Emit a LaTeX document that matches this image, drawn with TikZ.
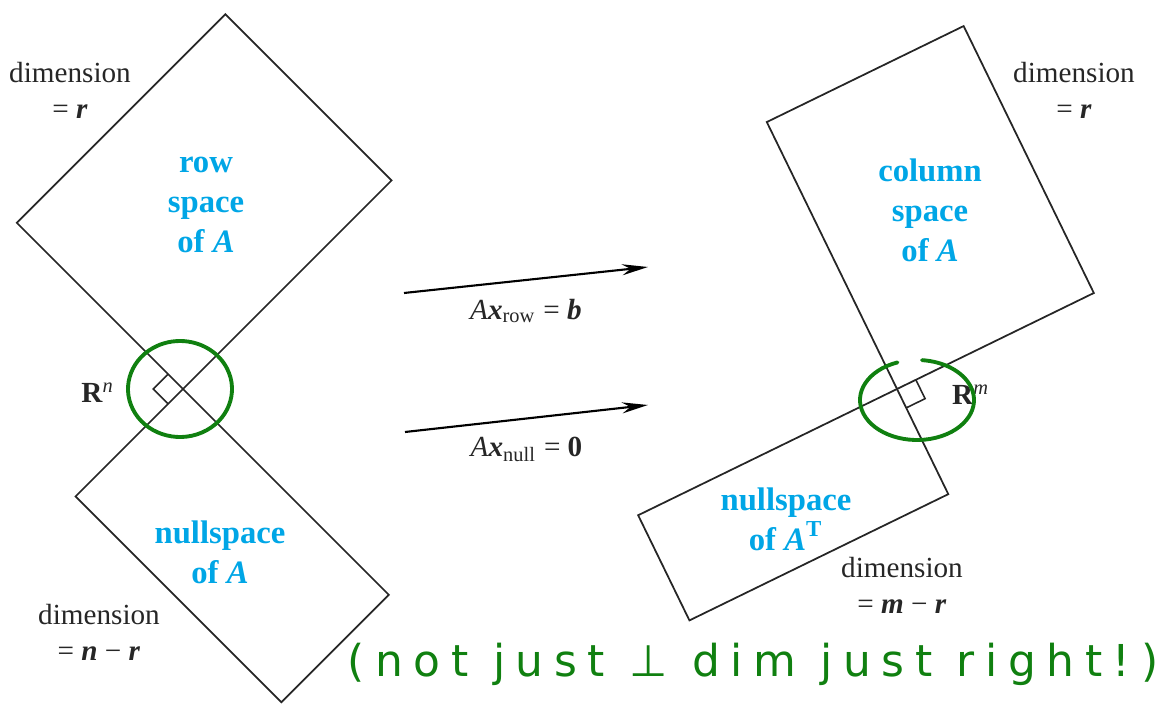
\documentclass[tikz,border=0pt]{standalone}
\usepackage{fontspec}
\setmainfont{Liberation Serif}
\newfontfamily\handfont[LetterSpace=24]{DejaVu Sans}
\usepackage{tikz}
\usetikzlibrary{arrows.meta,positioning,calc}
\definecolor{spaceblue}{RGB}{0,166,230}
\definecolor{pengreen}{RGB}{16,128,16}

\begin{document}
\begin{tikzpicture}[
  sp/.style={draw=black!85,line width=0.5pt},
  ra/.style={draw=black!85,line width=0.45pt},
  blab/.style={text=spaceblue,font=\fontsize{9.3}{11.4}\selectfont\bfseries,align=center},
  lab/.style={font=\fontsize{8.3}{10.2}\selectfont,align=center,text=black!85},
  arr/.style={line width=0.6pt,-{Stealth[length=2.6mm,width=1.1mm]}},
  pen/.style={draw=pengreen,line width=1.1pt,line cap=round}
]
\useasboundingbox (0,0) rectangle (11.66,7.04);
% left: R^n
\coordinate (jl) at (1.83,3.15);
\begin{scope}[shift={(jl)},rotate=45]
  \draw[sp] (0,0) rectangle (2.95,2.35);
  \draw[sp] (0,0) rectangle (-1.52,-2.91);
  \draw[ra] (0,0.21) -- (-0.21,0.21) -- (-0.21,0);
\end{scope}
\node[blab] (rowsp) at (2.06,4.99) {row\\space\\of \textit{A}};
\node[blab] (nulsp) at (2.20,1.52) {nullspace\\of \textit{A}};
\node[lab] (dimrow) at (0.70,6.14) {dimension\\= \textbf{\textit{r}}};
\node[lab] (dimnul) at (0.99,0.72) {dimension\\= \textbf{\textit{n}} − \textbf{\textit{r}}};
\node[lab] (rn) at (0.98,3.11) {\textbf{R}\textsuperscript{\textit{n}}};
% right: R^m
\coordinate (jr) at (8.97,3.15);
\begin{scope}[shift={(jr)},rotate=26]
  \draw[sp] (0,0) rectangle (2.19,2.97);
  \draw[sp] (0,0) rectangle (-2.88,-1.17);
  \draw[ra] (0.21,0) -- (0.21,-0.21) -- (0,-0.21);
\end{scope}
\node[blab] (colsp) at (9.30,4.94) {column\\space\\of \textit{A}};
\node[blab] (lnulsp) at (7.86,1.85) {nullspace\\of \textit{A}\textsuperscript{T}};
\node[lab] (dimcol) at (10.74,6.14) {dimension\\= \textbf{\textit{r}}};
\node[lab] (dimlnul) at (9.02,1.19) {dimension\\= \textbf{\textit{m}} − \textbf{\textit{r}}};
\node[lab] (rm) at (9.71,3.09) {\textbf{R}\textsuperscript{\textit{m}}};
% the two maps
\coordinate (rows) at (4.04,4.11);
\coordinate (rowe) at (6.48,4.37);
\coordinate (nuls) at (4.05,2.72);
\coordinate (nule) at (6.48,2.99);
\draw[arr] (rows) -- (rowe) node[midway,below=0.6mm,lab] (maprow) {\textit{A}\textbf{\textit{x}}\textsubscript{row} = \textbf{\textit{b}}};
\draw[arr] (nuls) -- (nule) node[midway,below=0.6mm,lab] (mapnul) {\textit{A}\textbf{\textit{x}}\textsubscript{null} = \textbf{0}};
% green pen
\coordinate (cl) at (1.80,3.15);
\coordinate (cr) at (9.17,3.04);
\draw[pen] (cl) ++(115:0.52 and 0.48) arc[start angle=115,end angle=482,x radius=0.52,y radius=0.48];
\draw[pen] (cr) ++(110:0.57 and 0.40) arc[start angle=110,end angle=445,x radius=0.57,y radius=0.40];
\node[text=pengreen,font=\handfont\fontsize{12.5}{14}\selectfont] (note) at (7.53,0.40) {(not just ⊥ dim just right!)};
\end{tikzpicture}
\end{document}
